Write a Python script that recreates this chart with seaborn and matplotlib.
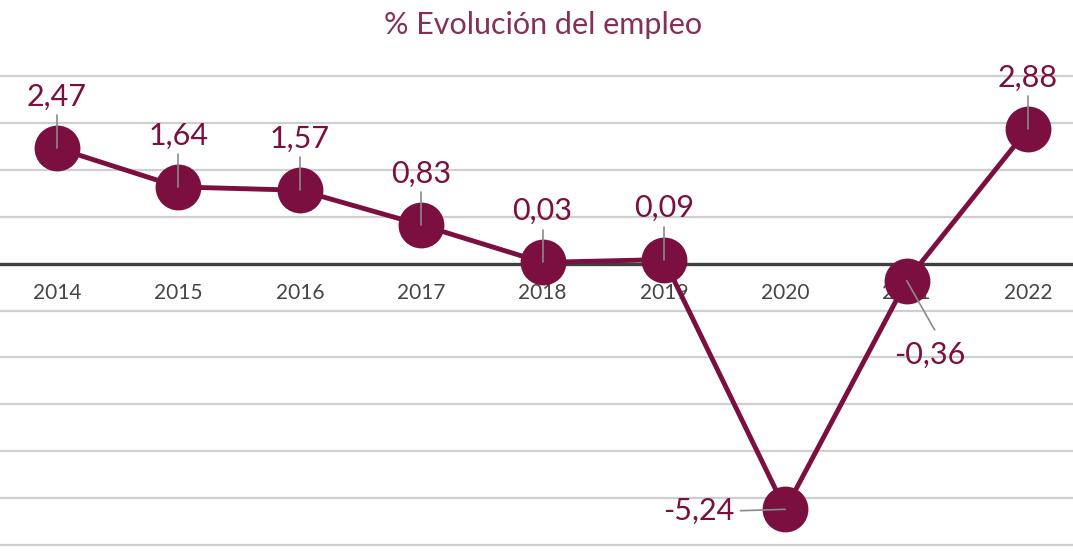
import matplotlib
matplotlib.use("Agg")
import matplotlib.pyplot as plt
import seaborn as sns
import pandas as pd

# data
years = ['2014', '2015', '2016', '2017', '2018', '2019', '2020', '2021', '2022']
employment = [2.47, 1.64, 1.57, 0.83, 0.03, 0.09, -5.24, -0.36, 2.88]
value_labels = ['2,47', '1,64', '1,57', '0,83', '0,03', '0,09', '-5,24', '-0,36', '2,88']
title = '% Evolución del empleo'

sns.set_style("white")
plt.rcParams['font.family'] = ['Lato', 'DejaVu Sans']

MAROON = '#7b0f3f'

df = pd.DataFrame({'year': years, 'pos': range(len(years)), 'value': employment})

fig = plt.figure(figsize=(10.73, 5.51), dpi=100)
ax = fig.add_axes([0, 0, 1, 1])

# gridlines
for g in range(-6, 5):
    if g == 0:
        continue
    ax.axhline(g, color='#cfcfcf', linewidth=1.6, zorder=0)
ax.axhline(0, color='#3f3f3f', linewidth=2.4, zorder=1)

sns.lineplot(data=df, x='pos', y='value', ax=ax, color=MAROON, linewidth=3.5,
             marker='o', markersize=33, markeredgewidth=0, zorder=3)

# year labels just below the zero line
for i, yr in enumerate(years):
    ax.text(i, -0.63, yr, ha='center', va='center', fontsize=15, color='#454545', zorder=2)

# value labels with leader lines
for i, (v, lab) in enumerate(zip(employment, value_labels)):
    if v < -3:
        ax.plot([i, i - 0.37], [v, v - 0.03], color='#8a8a8a', linewidth=1.2, zorder=4)
        ax.text(i - 0.42, v - 0.04, lab, ha='right', va='center', fontsize=22, color=MAROON)
    elif v < 0:
        ax.plot([i, i + 0.23], [v, v - 1.05], color='#8a8a8a', linewidth=1.2, zorder=4)
        ax.text(i + 0.19, v - 1.58, lab, ha='center', va='center', fontsize=22, color=MAROON)
    else:
        ax.plot([i, i], [v, v + 0.7], color='#8a8a8a', linewidth=1.2, zorder=4)
        ax.text(i, v + 1.1, lab, ha='center', va='center', fontsize=22, color=MAROON)

ax.text(0.506, 0.955, title, transform=ax.transAxes, ha='center', va='center',
        fontsize=22, color='#84305a', fontweight='normal')

ax.set_xlim(-0.47, 8.37)
ax.set_ylim(-6.13, 5.63)
ax.axis('off')

fig.savefig('out.png', dpi=100)
